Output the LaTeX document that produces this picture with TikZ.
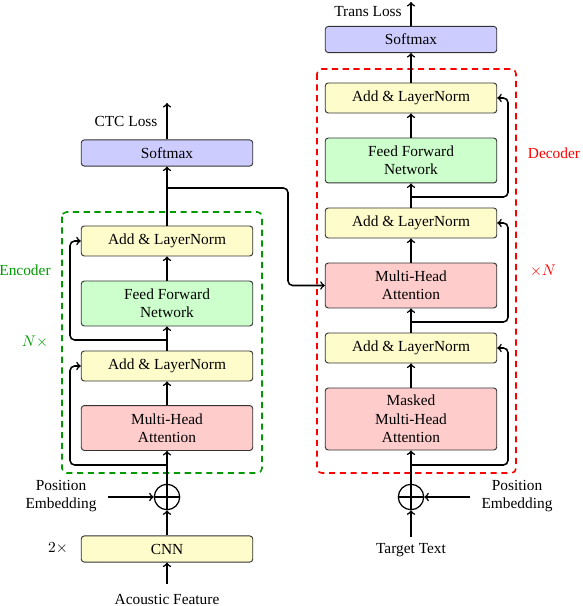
\documentclass[tikz,border=0pt]{standalone}
\usepackage{fontspec}
\setmainfont{Liberation Serif}
\usetikzlibrary{calc}
\tikzset{
  blk/.style={draw=black!80, semithick, rounded corners=2pt, minimum width=111.5pt, align=center, inner sep=0pt},
  addnorm/.style={blk, fill=yellow!20, minimum height=19.5pt},
  ffn/.style={blk, fill=green!20, minimum height=29.2pt},
  att/.style={blk, fill=red!20, minimum height=29.2pt},
  soft/.style={blk, fill=blue!20, minimum height=17pt},
  sumnode/.style={circle, draw, thick, minimum size=16.5pt, inner sep=0pt,
    path picture={\draw[thick] (path picture bounding box.north) -- (path picture bounding box.south)
      (path picture bounding box.west) -- (path picture bounding box.east);}},
  flow/.style={->, line width=1pt},
  res/.style={->, line width=1pt, rounded corners=3pt},
  frame/.style={dash pattern=on 4pt off 3pt, line width=1pt, rounded corners=3pt},
}
\begin{document}
\begin{tikzpicture}[x=0.65pt, y=-0.65pt]
			%%%%% START %%%%%
			\useasboundingbox (0, 0) rectangle (582, 606);
			
			% encoder frame and labels
			\draw[frame, green!60!black] (62, 212) rectangle (262, 473);
			\node[text=green!60!black] (enclab) at (25, 270) {Encoder};
			\node[text=green!60!black] (enctimes) at (35, 342) {$N\times$};
			
			% decoder frame and labels
			\draw[frame, red] (317, 69) rectangle (516, 473);
			\node[text=red] (declab) at (554, 153) {Decoder};
			\node[text=red] (dectimes) at (543, 271) {$\times N$};
			
			% encoder stack
			\node[soft] (esoft) at (167, 153) {Softmax};
			\node[addnorm] (eadd2) at (167, 241) {Add \& LayerNorm};
			\node[ffn] (effn) at (167, 303.5) {Feed Forward\\Network};
			\node[addnorm] (eadd1) at (167, 366) {Add \& LayerNorm};
			\node[att] (emha) at (167, 428) {Multi-Head\\Attention};
			\node[sumnode] (eplus) at (167, 497) {};
			\node[addnorm, minimum height=17pt] (ecnn) at (167, 549) {CNN};
			
			\node (ctclab) at (126, 121) {CTC Loss};
			\node (acoustic) at (167, 599) {Acoustic Feature};
			\node[align=center] (eposlab) at (61, 496) {Position\\Embedding};
			\node (twotimes) at (58, 548) {$2\times$};
			\coordinate (ctctop) at (167, 103);
			\coordinate (acbot) at (167, 584);
			\coordinate (eposend) at (108, 497);
			\coordinate (eleft) at (70, 0);
			\coordinate (eres1) at (167, 465);
			\coordinate (eres2) at (167, 340);
			\coordinate (ebr) at (167, 188);
			\coordinate (ecross) at (288, 0);
			
			% decoder stack
			\node[soft] (dsoft) at (411, 39.5) {Softmax};
			\node[addnorm] (dadd3) at (411, 98) {Add \& LayerNorm};
			\node[ffn] (dffn) at (411, 160.5) {Feed Forward\\Network};
			\node[addnorm] (dadd2) at (411, 223) {Add \& LayerNorm};
			\node[att] (dmha) at (411, 285.5) {Multi-Head\\Attention};
			\node[addnorm] (dadd1) at (411, 348) {Add \& LayerNorm};
			\node[att, minimum height=40.3pt] (dmmha) at (411, 419) {Masked\\Multi-Head\\Attention};
			\node[sumnode] (dplus) at (411, 497) {};
			
			\node (translab) at (368, 12) {Trans Loss};
			\node (target) at (411, 550) {Target Text};
			\node[align=center] (dposlab) at (517, 496) {Position\\Embedding};
			\coordinate (transtop) at (411, 2);
			\coordinate (tgtbot) at (411, 537);
			\coordinate (dposend) at (470, 497);
			\coordinate (dright) at (508, 0);
			\coordinate (dres1) at (411, 465);
			\coordinate (dres2) at (411, 322);
			\coordinate (dres3) at (411, 197);
			
			% encoder flow
			\draw[flow] (acbot) -- (ecnn);
			\draw[flow] (ecnn) -- (eplus);
			\draw[flow] (eposend) -- (eplus);
			\draw[flow] (eplus) -- (emha);
			\draw[flow] (emha) -- (eadd1);
			\draw[flow] (eadd1) -- (effn);
			\draw[flow] (effn) -- (eadd2);
			\draw[flow] (eadd2) -- (esoft);
			\draw[flow] (esoft) -- (ctctop);
			\draw[res] (eres1) -| (eleft |- eadd1.west) -- (eadd1.west);
			\draw[res] (eres2) -| (eleft |- eadd2.west) -- (eadd2.west);
			\draw[res] (ebr) -| (ecross |- dmha.west) -- (dmha.west);
			
			% decoder flow
			\draw[flow] (tgtbot) -- (dplus);
			\draw[flow] (dposend) -- (dplus);
			\draw[flow] (dplus) -- (dmmha);
			\draw[flow] (dmmha) -- (dadd1);
			\draw[flow] (dadd1) -- (dmha);
			\draw[flow] (dmha) -- (dadd2);
			\draw[flow] (dadd2) -- (dffn);
			\draw[flow] (dffn) -- (dadd3);
			\draw[flow] (dadd3) -- (dsoft);
			\draw[flow] (dsoft) -- (transtop);
			\draw[res] (dres1) -| (dright |- dadd1.east) -- (dadd1.east);
			\draw[res] (dres2) -| (dright |- dadd2.east) -- (dadd2.east);
			\draw[res] (dres3) -| (dright |- dadd3.east) -- (dadd3.east);
			
			%%%%% END %%%%%
		\end{tikzpicture}
\end{document}
